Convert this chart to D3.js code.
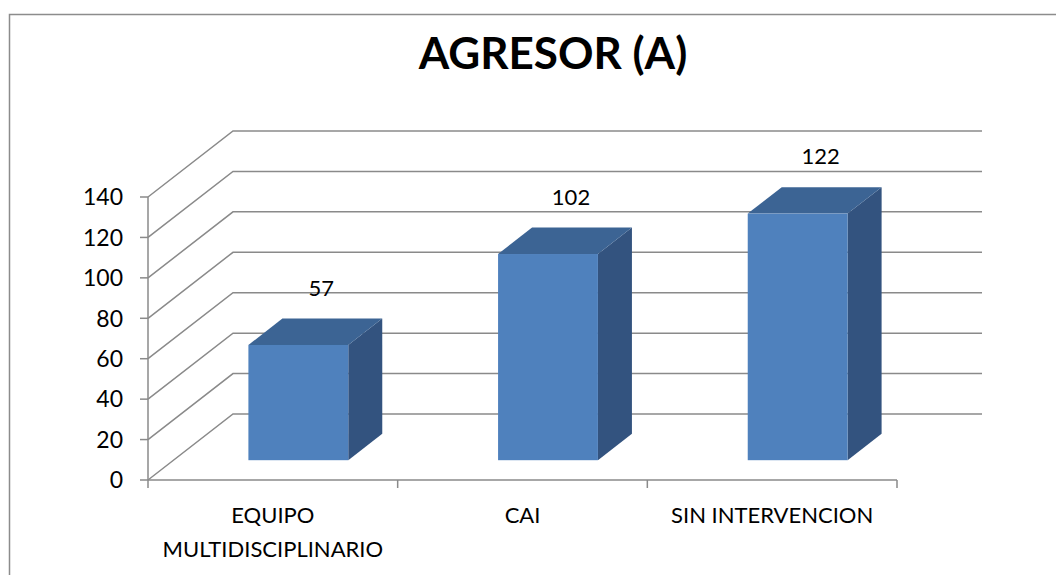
<!DOCTYPE html>
<html>
<head>
<meta charset="utf-8">
<script src="https://cdn.jsdelivr.net/npm/d3@7"></script>
<style>
  html, body { margin: 0; padding: 0; background: #fff; overflow: hidden; }
  svg { display: block; font-family: Lato, 'Open Sans', sans-serif; }
</style>
</head>
<body>
<svg id="chart" width="1056" height="575"></svg>
<script>
// chart data
const categories = ['EQUIPO\nMULTIDISCIPLINARIO', 'CAI', 'SIN INTERVENCION'],
    values = [57, 102, 122],
    yTicks = [0, 20, 40, 60, 80, 100, 120, 140],
    title = 'AGRESOR (A)';

const width = 1056,
    height = 575,
    plot = { left: 148, right: 897, bottom: 480, top: 197 },
    depth = { dx: 85, dy: -66 },
    barDepth = [0.3, 0.7],
    gridColor = '#8a8a8a',
    colors = { front: '#4f81bd', top: '#3c6494', side: '#33537f' };

const svg = d3.select('#chart');

// frame around the chart area (runs off the right and bottom edges)
svg.append('rect')
    .attr('x', 9.5).attr('y', 14.5)
    .attr('width', width + 20).attr('height', height + 20)
    .attr('fill', 'none')
    .attr('stroke', '#8c8c8c')
    .attr('stroke-width', 1.5);

svg.append('text')
    .attr('x', 553).attr('y', 69)
    .attr('text-anchor', 'middle')
    .attr('font-size', 44)
    .attr('font-weight', 'bold')
    .attr('fill', '#000')
    .text(title);

const x = d3.scaleBand()
    .domain(categories)
    .range([plot.left, plot.right])
    .paddingInner(0.6)
    .paddingOuter(0.3);

const y = d3.scaleLinear()
    .domain([0, 140])
    .range([plot.bottom, plot.top]);

// project a point (px, py on the front plane) back by depth d
function proj(px, py, d) {
    return [px + depth.dx * d, py + depth.dy * d];
}

const grid = svg.append('g').attr('class', 'grid');

// side wall diagonals + back wall lines
yTicks.forEach(t => {
    const front = [plot.left, y(t)],
        back = proj(plot.left, y(t), 1),
        backEnd = proj(plot.right, y(t), 1);
    grid.append('polyline')
        .attr('points', [front, back, backEnd].map(p => p.join(',')).join(' '))
        .attr('fill', 'none')
        .attr('stroke', gridColor)
        .attr('stroke-width', 1.5);
});

// y axis line + ticks
const axis = svg.append('g').attr('class', 'axes');
axis.append('line')
    .attr('x1', plot.left).attr('x2', plot.left)
    .attr('y1', y(0)).attr('y2', y(140))
    .attr('stroke', gridColor).attr('stroke-width', 1.5);

axis.selectAll('.ytick')
    .data(yTicks)
    .join('line')
    .attr('class', 'ytick')
    .attr('x1', plot.left - 8).attr('x2', plot.left)
    .attr('y1', d => y(d)).attr('y2', d => y(d))
    .attr('stroke', gridColor).attr('stroke-width', 1.5);

axis.selectAll('.ylabel')
    .data(yTicks)
    .join('text')
    .attr('class', 'ylabel')
    .attr('x', plot.left - 25)
    .attr('y', d => y(d))
    .attr('dy', '0.36em')
    .attr('text-anchor', 'end')
    .attr('font-size', 23)
    .attr('fill', '#000')
    .text(d => d);

// x axis line + ticks at category boundaries
axis.append('line')
    .attr('x1', plot.left).attr('x2', plot.right)
    .attr('y1', y(0)).attr('y2', y(0))
    .attr('stroke', gridColor).attr('stroke-width', 1.5);

const step = x.step();
axis.selectAll('.xtick')
    .data(d3.range(categories.length + 1))
    .join('line')
    .attr('class', 'xtick')
    .attr('x1', i => plot.left + i * step).attr('x2', i => plot.left + i * step)
    .attr('y1', y(0)).attr('y2', y(0) + 8)
    .attr('stroke', gridColor).attr('stroke-width', 1.5);

const xl = axis.selectAll('.xlabel')
    .data(categories)
    .join('text')
    .attr('class', 'xlabel')
    .attr('text-anchor', 'middle')
    .attr('font-size', 22)
    .attr('fill', '#000');

xl.selectAll('tspan')
    .data(d => d.split('\n').map(s => ({ s, c: d })))
    .join('tspan')
    .attr('x', d => x(d.c) + x.bandwidth() / 2)
    .attr('y', (d, i) => y(0) + 43 + i * 34)
    .text(d => d.s);

// 3D bars
const bars = svg.append('g').attr('class', 'bars');
const pts = arr => arr.map(p => p.join(',')).join(' ');

categories.forEach((c, i) => {
    const v = values[i],
        x0 = x(c), x1 = x(c) + x.bandwidth(),
        yb = y(0), yt = y(v),
        d0 = barDepth[0], d1 = barDepth[1];
    const g = bars.append('g');

    // right face
    g.append('polygon')
        .attr('points', pts([proj(x1, yt, d0), proj(x1, yt, d1), proj(x1, yb, d1), proj(x1, yb, d0)]))
        .attr('fill', colors.side);
    // top face
    g.append('polygon')
        .attr('points', pts([proj(x0, yt, d0), proj(x0, yt, d1), proj(x1, yt, d1), proj(x1, yt, d0)]))
        .attr('fill', colors.top);
    // front face
    const f0 = proj(x0, yt, d0), f1 = proj(x1, yb, d0);
    g.append('rect')
        .attr('x', f0[0]).attr('y', f0[1])
        .attr('width', f1[0] - f0[0]).attr('height', f1[1] - f0[1])
        .attr('fill', colors.front);

    // value label above the bar
    const lp = proj(x0 + x.bandwidth() / 2, yt, (d0 + d1) / 2);
    g.append('text')
        .attr('x', lp[0] + 6)
        .attr('y', lp[1] - 36)
        .attr('text-anchor', 'middle')
        .attr('font-size', 22)
        .attr('fill', '#000')
        .text(v);
});
</script>
</body>
</html>
